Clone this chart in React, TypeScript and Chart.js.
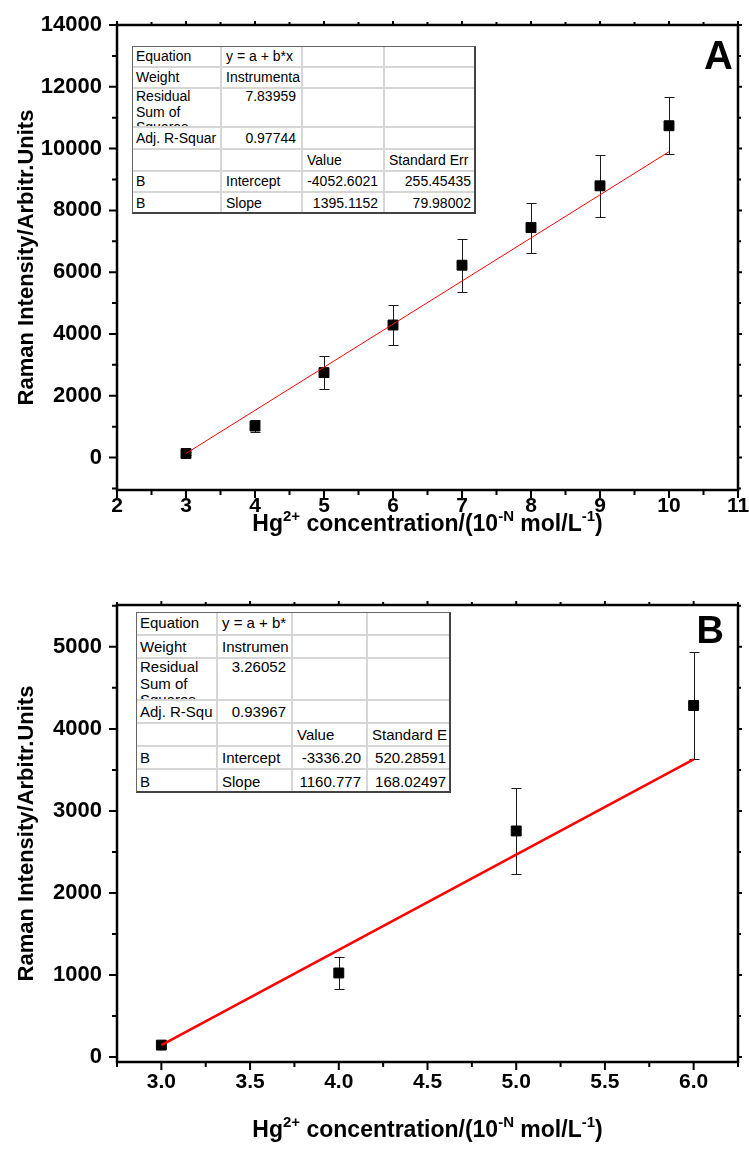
import React, { useEffect, useRef } from "react";
import { Chart, registerables } from "chart.js";

Chart.register(...registerables);

const FONT = '"Liberation Sans", Arial, Helvetica, sans-serif';

// ---------- Panel A data ----------
const concentrationA = [3, 4, 5, 6, 7, 8, 9, 10];
const intensityA = [130, 1020, 2750, 4290, 6225, 7445, 8795, 10740];
const errorA = [40, 190, 525, 650, 860, 810, 995, 930];
const fitXA = [3, 10];
const fitYA = [133, 9899];
const xTicksA = [2, 3, 4, 5, 6, 7, 8, 9, 10, 11];
const yTicksA = [0, 2000, 4000, 6000, 8000, 10000, 12000, 14000];
const tableA = [
  ["Equation", "y = a + b*x", "", ""],
  ["Weight", "Instrumenta", "", ""],
  ["Residual\nSum of\nSquares", "7.83959", "", ""],
  ["Adj. R-Squar", "0.97744", "", ""],
  ["", "", "Value", "Standard Err"],
  ["B", "Intercept", "-4052.6021", "255.45435"],
  ["B", "Slope", "1395.1152", "79.98002"],
];

// ---------- Panel B data ----------
const concentrationB = [3, 4, 5, 6];
const intensityB = [146, 1025, 2756, 4285];
const errorB = [30, 197, 524, 652];
const fitXB = [3, 6];
const fitYB = [146, 3628];
const xTicksB = [3.0, 3.5, 4.0, 4.5, 5.0, 5.5, 6.0];
const yTicksB = [0, 1000, 2000, 3000, 4000, 5000];
const tableB = [
  ["Equation", "y = a + b*", "", ""],
  ["Weight", "Instrumen", "", ""],
  ["Residual\nSum of\nSquares", "3.26052", "", ""],
  ["Adj. R-Squ", "0.93967", "", ""],
  ["", "", "Value", "Standard E"],
  ["B", "Intercept", "-3336.20", "520.28591"],
  ["B", "Slope", "1160.777", "168.02497"],
];

const yTitle = "Raman Intensity/Arbitr.Units";
const xTitleParts: [string, boolean][] = [
  ["Hg", false],
  ["2+", true],
  [" concentration/(10", false],
  ["-N", true],
  [" mol/L", false],
  ["-1", true],
  [")", false],
];

type Spec = {
  x: number[];
  y: number[];
  err: number[];
  fitX: number[];
  fitY: number[];
  xTicks: number[];
  yTicks: number[];
  xMin: number;
  xMax: number;
  yMin: number;
  yMax: number;
  xMinor: number;
  yMinor: number;
  decimals: number;
  letter: string;
  letterSize: number;
  letterRight: number;
  letterBaseline: number;
  canvasTop: number;
  canvasHeight: number;
  areaTop: number;
  areaBottom: number;
  fitWidth: number;
  xLabelPad: number;
  titleBaseline: number;
};

const specA: Spec = {
  x: concentrationA,
  y: intensityA,
  err: errorA,
  fitX: fitXA,
  fitY: fitYA,
  xTicks: xTicksA,
  yTicks: yTicksA,
  xMin: 2,
  xMax: 11,
  yMin: -1050,
  yMax: 14000,
  xMinor: 0.5,
  yMinor: 1000,
  decimals: 0,
  letter: "A",
  letterSize: 40,
  letterRight: 733,
  letterBaseline: 69,
  canvasTop: 0,
  canvasHeight: 550,
  areaTop: 25,
  areaBottom: 490,
  fitWidth: 1,
  xLabelPad: 4,
  titleBaseline: 531,
};

const specB: Spec = {
  x: concentrationB,
  y: intensityB,
  err: errorB,
  fitX: fitXB,
  fitY: fitYB,
  xTicks: xTicksB,
  yTicks: yTicksB,
  xMin: 2.75,
  xMax: 6.25,
  yMin: -60,
  yMax: 5510,
  xMinor: 0.25,
  yMinor: 500,
  decimals: 1,
  letter: "B",
  letterSize: 38,
  letterRight: 724,
  letterBaseline: 93,
  canvasTop: 550,
  canvasHeight: 599,
  areaTop: 55,
  areaBottom: 512,
  fitWidth: 2.5,
  xLabelPad: 8,
  titleBaseline: 587,
};

function ChartPanel({ spec }: { spec: Spec }) {
  const ref = useRef<HTMLCanvasElement>(null);

  useEffect(() => {
    const canvas = ref.current;
    if (!canvas) return;
    const s = spec;

    const errorBars = {
      id: "errorBars",
      beforeDatasetsDraw(chart: any) {
        const ctx = chart.ctx;
        const xs = chart.scales.x;
        const ys = chart.scales.y;
        ctx.save();
        ctx.strokeStyle = "#1a1a1a";
        ctx.lineWidth = 1;
        s.x.forEach((xv, i) => {
          const px = Math.round(xs.getPixelForValue(xv)) + 0.5;
          const y1 = Math.round(ys.getPixelForValue(s.y[i] + s.err[i])) + 0.5;
          const y2 = Math.round(ys.getPixelForValue(s.y[i] - s.err[i])) + 0.5;
          ctx.beginPath();
          ctx.moveTo(px, y1);
          ctx.lineTo(px, y2);
          ctx.moveTo(px - 5, y1);
          ctx.lineTo(px + 5, y1);
          ctx.moveTo(px - 5, y2);
          ctx.lineTo(px + 5, y2);
          ctx.stroke();
        });
        ctx.restore();
      },
    };

    const near = (a: number, b: number) => Math.abs(a - b) < 1e-6;

    const frame = {
      id: "frame",
      afterDraw(chart: any) {
        const ctx = chart.ctx;
        const { left, right, top, bottom } = chart.chartArea;
        const xs = chart.scales.x;
        const ys = chart.scales.y;
        ctx.save();
        ctx.strokeStyle = "#000";
        ctx.lineWidth = 2;
        const x0 = Math.ceil(s.xMin / s.xMinor - 1e-9) * s.xMinor;
        const nx = Math.round((s.xMax - x0) / s.xMinor);
        for (let k = 0; k <= nx; k++) {
          const v = x0 + k * s.xMinor;
          const major = s.xTicks.some((t) => near(t, v));
          const px = xs.getPixelForValue(v);
          ctx.beginPath();
          ctx.moveTo(px, bottom);
          ctx.lineTo(px, bottom + (major ? 8 : 5));
          ctx.moveTo(px, top);
          ctx.lineTo(px, top - (major ? 4 : 3));
          ctx.stroke();
        }
        const y0 = Math.ceil(s.yMin / s.yMinor - 1e-9) * s.yMinor;
        const ny = Math.floor((s.yMax - y0) / s.yMinor + 1e-9);
        for (let k = 0; k <= ny; k++) {
          const v = y0 + k * s.yMinor;
          const major = s.yTicks.some((t) => near(t, v));
          const py = ys.getPixelForValue(v);
          ctx.beginPath();
          ctx.moveTo(left, py);
          ctx.lineTo(left - (major ? 8 : 5), py);
          ctx.moveTo(right, py);
          ctx.lineTo(right + (major ? 4 : 3), py);
          ctx.stroke();
        }
        ctx.lineWidth = 2.5;
        ctx.strokeRect(left, top, right - left, bottom - top);

        ctx.fillStyle = "#000";
        ctx.font = `bold ${s.letterSize}px ${FONT}`;
        ctx.textAlign = "right";
        ctx.textBaseline = "alphabetic";
        ctx.fillText(s.letter, s.letterRight, s.letterBaseline);

        const mainFont = `bold 23px ${FONT}`;
        const supFont = `bold 15px ${FONT}`;
        let total = 0;
        const widths = xTitleParts.map(([t, sup]) => {
          ctx.font = sup ? supFont : mainFont;
          const w = ctx.measureText(t).width;
          total += w;
          return w;
        });
        let cx = (left + right) / 2 - total / 2;
        ctx.textAlign = "left";
        xTitleParts.forEach(([t, sup], i) => {
          ctx.font = sup ? supFont : mainFont;
          ctx.fillText(t, cx, s.titleBaseline - (sup ? 10 : 0));
          cx += widths[i];
        });
        ctx.restore();
      },
    };

    const chart = new Chart(canvas, {
      type: "scatter",
      data: {
        datasets: [
          {
            label: "Linear fit",
            data: s.fitX.map((xv, i) => ({ x: xv, y: s.fitY[i] })),
            showLine: true,
            borderColor: "#ff0000",
            borderWidth: s.fitWidth,
            pointRadius: 0,
            fill: false,
          } as any,
          {
            label: "Raman intensity",
            data: s.x.map((xv, i) => ({ x: xv, y: s.y[i] })),
            pointStyle: "rect",
            pointRadius: 7,
            backgroundColor: "#000",
            borderColor: "#000",
            borderWidth: 1,
          },
        ],
      },
      options: {
        responsive: false,
        animation: false,
        devicePixelRatio: 1,
        layout: { padding: { top: s.areaTop, right: 11, left: 0, bottom: 0 } },
        plugins: { legend: { display: false }, tooltip: { enabled: false } },
        scales: {
          x: {
            type: "linear",
            min: s.xMin,
            max: s.xMax,
            grid: { display: false, drawTicks: false },
            border: { display: false },
            ticks: {
              font: { family: FONT, size: 21, weight: "bold" },
              color: "#000",
              padding: s.xLabelPad,
              autoSkip: false,
              maxRotation: 0,
              callback: (v: any) => Number(v).toFixed(s.decimals),
            },
            afterBuildTicks: (sc: any) => {
              sc.ticks = s.xTicks.map((v) => ({ value: v }));
            },
            afterFit: (sc: any) => {
              sc.height = s.canvasHeight - s.areaBottom;
              sc.paddingLeft = 0;
              sc.paddingRight = 0;
            },
          },
          y: {
            type: "linear",
            min: s.yMin,
            max: s.yMax,
            grid: { display: false, drawTicks: false },
            border: { display: false },
            ticks: {
              font: { family: FONT, size: 22, weight: "bold" },
              color: "#000",
              padding: 15,
              autoSkip: false,
              callback: (v: any) => String(v),
            },
            title: {
              display: true,
              text: yTitle,
              color: "#000",
              font: { family: FONT, size: 22, weight: "bold" },
              padding: { top: 14, bottom: 0 },
            },
            afterBuildTicks: (sc: any) => {
              sc.ticks = s.yTicks.map((v) => ({ value: v }));
            },
            afterFit: (sc: any) => {
              sc.width = 117;
              sc.paddingTop = 0;
              sc.paddingBottom = 0;
            },
          },
        },
      },
      plugins: [errorBars, frame],
    });

    return () => chart.destroy();
  }, [spec]);

  return (
    <canvas
      ref={ref}
      width={749}
      height={spec.canvasHeight}
      style={{ position: "absolute", left: 0, top: spec.canvasTop, display: "block" }}
    />
  );
}

function FitTable({
  cells,
  cols,
  rows,
  fontSize,
}: {
  cells: string[][];
  cols: number[];
  rows: number[];
  fontSize: number;
}) {
  const L = cols[0];
  const T = rows[0];
  const W = cols[cols.length - 1] - L;
  const H = rows[rows.length - 1] - T;
  const isNum = (t: string) => /^-?[\d.]+$/.test(t);
  return (
    <div
      style={{
        position: "absolute",
        left: L,
        top: T,
        width: W,
        height: H,
        boxSizing: "border-box",
        border: "1px solid #666",
        borderRightWidth: 2,
        borderBottomWidth: 2,
        borderRightColor: "#444",
        borderBottomColor: "#444",
        background: "#fff",
        fontFamily: FONT,
        fontSize,
        color: "#000",
        overflow: "hidden",
      }}
    >
      {cells.map((row, r) => {
        const multiRow = row.some((t) => t.includes("\n"));
        return row.map((text, c) => (
          <div
            key={`${r}-${c}`}
            style={{
              position: "absolute",
              left: cols[c] - L - 1,
              top: rows[r] - T - 1,
              width: cols[c + 1] - cols[c],
              height: rows[r + 1] - rows[r],
              boxSizing: "border-box",
              borderRight: c < row.length - 1 ? "2px solid #d6d6d6" : "none",
              borderBottom: r < cells.length - 1 ? "2px solid #d6d6d6" : "none",
              display: "flex",
              alignItems: multiRow ? "flex-start" : "center",
              justifyContent: isNum(text) ? "flex-end" : "flex-start",
              padding: "0 5px 0 4px",
              whiteSpace: "pre",
              lineHeight: multiRow ? `${fontSize + 1.5}px` : `${fontSize + 2.3}px`,
              overflow: "hidden",
            }}
          >
            {text}
          </div>
        ));
      })}
    </div>
  );
}

export default function App() {
  return (
    <div
      style={{
        position: "absolute",
        left: 0,
        top: 0,
        width: 749,
        height: 1149,
        background: "#fff",
        overflow: "hidden",
      }}
    >
      <ChartPanel spec={specA} />
      <ChartPanel spec={specB} />
      <FitTable
        cells={tableA}
        cols={[132, 222, 303, 385, 476]}
        rows={[46, 68, 89, 128, 150, 172, 193, 214]}
        fontSize={14}
      />
      <FitTable
        cells={tableB}
        cols={[136, 218, 293, 368, 451]}
        rows={[612, 636, 659, 701, 724, 747, 770, 793]}
        fontSize={15}
      />
    </div>
  );
}
